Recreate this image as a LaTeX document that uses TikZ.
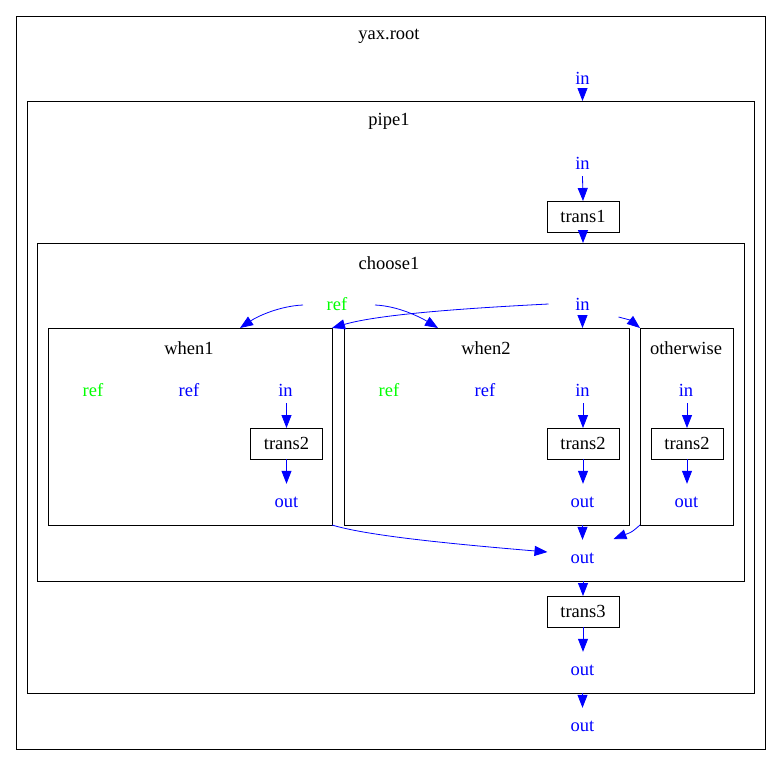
\documentclass[tikz,border=0pt]{standalone}
\usepackage{fontspec}
\setmainfont{Liberation Serif}
\usetikzlibrary{arrows.meta,calc}
\begin{document}
\begin{tikzpicture}[x=1pt,y=-1pt,
  font=\fontsize{18.5}{21}\selectfont,
  frame/.style={draw=black, line width=0.8pt, anchor=north west, inner sep=0pt, outer sep=0pt},
  tbox/.style={draw=black, line width=0.8pt, minimum width=72pt, minimum height=31pt, inner sep=0pt, outer sep=0pt},
  title/.style={inner sep=0pt},
  port/.style={text=blue, inner sep=0pt, minimum height=26pt},
  oport/.style={text=blue, inner sep=0pt, minimum height=36pt},
  gref/.style={text=green, inner sep=0pt},
  bref/.style={text=blue, inner sep=0pt},
  edge/.style={draw=blue, line width=0.8pt, -{Triangle[length=13pt,width=10pt]}}]
\useasboundingbox (0,0) rectangle (781,776);

% root graph
\node[frame, minimum width=749pt, minimum height=733pt] (root) at (16,16) {};
\node[title] (rootlbl) at (389,36) {yax.root};
\node[port] (rin) at (582.5,78) {in};
\node[oport] (rout) at (582.5,726) {out};

% pipe1
\node[frame, minimum width=727pt, minimum height=592pt] (pipe1) at (27,101) {};
\node[title] (pipelbl) at (389,121) {pipe1};
\node[port] (pin) at (582.5,163) {in};
\node[tbox] (trans1) at (583,216.5) {trans1};
\node[tbox] (trans3) at (583,611.5) {trans3};
\node[oport] (pout) at (582.5,670) {out};

% choose1
\node[frame, minimum width=707pt, minimum height=338pt] (choose1) at (37,243) {};
\node[title] (chooselbl) at (389,263) {choose1};
\node[gref] (cref) at (337,304) {ref};
\node[port] (cin) at (582.5,304) {in};
\node[oport] (cout) at (582.5,558) {out};

% when1
\node[frame, minimum width=284pt, minimum height=197pt] (when1) at (48,328) {};
\node[title] (w1lbl) at (189,348) {when1};
\node[gref] (w1gref) at (93,390) {ref};
\node[bref] (w1bref) at (189,390) {ref};
\node[port] (w1in) at (285.5,390) {in};
\node[tbox] (w1t) at (286.5,443.5) {trans2};
\node[oport] (w1out) at (286.5,502) {out};

% when2
\node[frame, minimum width=285pt, minimum height=197pt] (when2) at (344,328) {};
\node[title] (w2lbl) at (486,348) {when2};
\node[gref] (w2gref) at (389,390) {ref};
\node[bref] (w2bref) at (485,390) {ref};
\node[port] (w2in) at (582.5,390) {in};
\node[tbox] (w2t) at (583,443.5) {trans2};
\node[oport] (w2out) at (582.5,502) {out};

% otherwise
\node[frame, minimum width=93pt, minimum height=197pt] (other) at (640,328) {};
\node[title] (owlbl) at (686,348) {otherwise};
\node[port] (owin) at (686,390) {in};
\node[tbox] (owt) at (687,443.5) {trans2};
\node[oport] (owout) at (686.5,502) {out};

% straight flow
\draw[edge] (rin.south) -- (rin.south |- pipe1.north);
\draw[edge] (pin.south) -- (trans1.north);
\draw[edge] (trans1.south) -- (trans1.south |- choose1.north);
\draw[edge] (cin.south) -- (cin.south |- when2.north);
\draw[edge] (w1t.north |- w1in.south) -- (w1t.north);
\draw[edge] (w1t.south) -- (w1t.south |- w1out.north);
\draw[edge] (w2t.north |- w2in.south) -- (w2t.north);
\draw[edge] (w2t.south) -- (w2t.south |- w2out.north);
\draw[edge] (owt.north |- owin.south) -- (owt.north);
\draw[edge] (owt.south) -- (owt.south |- owout.north);
\draw[edge] (when2.south -| cout) -- (cout.north);
\draw[edge] (choose1.south -| trans3) -- (trans3.north);
\draw[edge] (trans3.south) -- (trans3.south |- pout.north);
\draw[edge] (pipe1.south -| rout) -- (rout.north);

% fan-out into the branches
\draw[edge] ($(cref.center)+(-34,1)$) .. controls (280,306) and (258,316) .. ($(when1.north west)+(192,0)$);
\draw[edge] ($(cref.center)+(38,1)$) .. controls (398,306) and (420,317) .. ($(when2.north west)+(94,0)$);
\draw[edge] ($(cin.center)+(-34,0)$) .. controls (470,308) and (380,314) .. (when1.north east);
\draw[edge] ($(cin.center)+(36,13)$) .. controls (630,320) .. (other.north west);

% fan-in from the branches
\draw[edge] (when1.south east) .. controls (365,535) and (440,543) .. ($(cout.center)+(-35,-6)$);
\draw[edge] (other.south west) .. controls (632,532) .. ($(cout.center)+(31,-19)$);
\end{tikzpicture}
\end{document}
